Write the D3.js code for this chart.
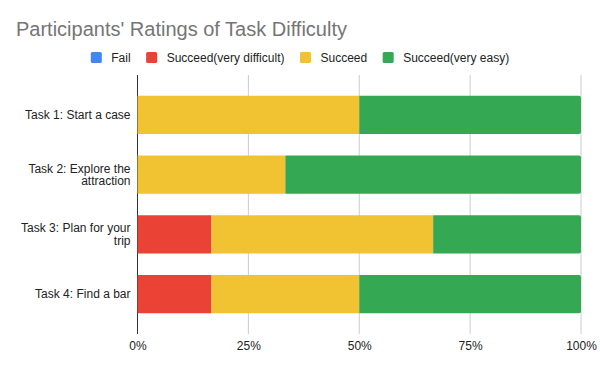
<!DOCTYPE html>
<html>
<head>
<meta charset="utf-8">
<script src="https://cdn.jsdelivr.net/npm/d3@7"></script>
<style>
  body { margin: 0; background: #fff; }
  text { font-family: Arial, "Liberation Sans", sans-serif; }
</style>
</head>
<body>
<script>
// responses per task (6 participants)
var categories = ["Task 1: Start a case", "Task 2: Explore the attraction", "Task 3: Plan for your trip", "Task 4: Find a bar"];
var seriesNames = ["Fail", "Succeed(very difficult)", "Succeed", "Succeed(very easy)"];
var fail = [0, 0, 0, 0];
var veryDifficult = [0, 0, 1, 1];
var succeed = [3, 2, 3, 2];
var veryEasy = [3, 4, 2, 3];
var colors = ["#4285F4", "#EA4335", "#F1C232", "#34A853"];
var ticks = [0, 0.25, 0.5, 0.75, 1];

var w = 600, h = 371;
var svg = d3.select("body").append("svg")
    .attr("width", w)
    .attr("height", h);

var rows = categories.map(function(c, i) {
    var r = {task: c};
    r[seriesNames[0]] = fail[i];
    r[seriesNames[1]] = veryDifficult[i];
    r[seriesNames[2]] = succeed[i];
    r[seriesNames[3]] = veryEasy[i];
    return r;
});
var stacked = d3.stack().keys(seriesNames).offset(d3.stackOffsetExpand)(rows);

var x = d3.scaleLinear().domain([0, 1]).range([137.5, 581]);
var y = d3.scaleBand().domain(categories).range([85, 324])
    .paddingInner(0.36).paddingOuter(0.18);
var color = d3.scaleOrdinal().domain(seriesNames).range(colors);

// title
svg.append("text")
    .attr("x", 16).attr("y", 35.5)
    .attr("font-size", 20)
    .attr("fill", "#757575")
    .text("Participants' Ratings of Task Difficulty");

// legend
var legend = svg.append("g");
var lx = 0;
seriesNames.forEach(function(s) {
    var g = legend.append("g").attr("transform", "translate(" + lx + ",0)");
    g.append("rect").attr("x", 0).attr("y", -5.5).attr("width", 11).attr("height", 11)
        .attr("rx", 1.5).attr("fill", color(s));
    var t = g.append("text").attr("x", 20.5).attr("y", 4.3)
        .attr("font-size", 12).attr("fill", "#222").text(s);
    lx += 20.5 + t.node().getComputedTextLength() + 15.5;
});
lx -= 15.5;
legend.attr("transform", "translate(" + (w / 2 - lx / 2) + ",57.5)");

// gridlines
svg.append("g").selectAll("line")
    .data(ticks)
    .enter().append("line")
    .attr("x1", function(d) { return x(d); })
    .attr("x2", function(d) { return x(d); })
    .attr("y1", 75).attr("y2", 334)
    .attr("stroke", function(d) { return d === 0 ? "#333" : "#ccc"; })
    .attr("stroke-width", 1);

// bars
var layers = svg.append("g").selectAll("g")
    .data(stacked)
    .enter().append("g")
    .attr("fill", function(d) { return color(d.key); });

function isLast(layerIdx, rowIdx) {
    for (var k = layerIdx + 1; k < stacked.length; k++) {
        var s = stacked[k][rowIdx];
        if (s[1] - s[0] > 0) return false;
    }
    return true;
}

layers.each(function(layer, li) {
    d3.select(this).selectAll("path")
        .data(layer.filter(function(d) { return d[1] - d[0] > 0; }))
        .enter().append("path")
        .attr("d", function(d) {
            var ri = categories.indexOf(d.data.task);
            var x0 = x(d[0]), x1 = x(d[1]), y0 = y(d.data.task), bh = y.bandwidth();
            var r = isLast(li, ri) ? 2 : 0;
            return "M" + x0 + "," + y0 + "H" + (x1 - r) +
                "Q" + x1 + "," + y0 + " " + x1 + "," + (y0 + r) +
                "V" + (y0 + bh - r) +
                "Q" + x1 + "," + (y0 + bh) + " " + (x1 - r) + "," + (y0 + bh) +
                "H" + x0 + "Z";
        });
});

// x axis labels
var xAxis = svg.append("g")
    .attr("transform", "translate(0,337)")
    .call(d3.axisBottom(x).tickValues(ticks).tickFormat(d3.format(".0%")).tickSize(0));
xAxis.select(".domain").remove();
xAxis.selectAll("text").attr("font-size", 12).attr("fill", "#222")
    .attr("font-family", "Arial, 'Liberation Sans', sans-serif").attr("dy", "0.71em").attr("y", 4);

// y labels with wrapping
var yLab = svg.append("g");
categories.forEach(function(c) {
    var t = yLab.append("text")
        .attr("text-anchor", "end")
        .attr("font-size", 12)
        .attr("fill", "#222");
    var words = c.split(" "), lines = [], line = [];
    var probe = t.append("tspan");
    words.forEach(function(wd) {
        line.push(wd);
        probe.text(line.join(" "));
        if (probe.node().getComputedTextLength() > 115 && line.length > 1) {
            line.pop();
            lines.push(line.join(" "));
            line = [wd];
        }
    });
    lines.push(line.join(" "));
    probe.remove();
    var cy = y(c) + y.bandwidth() / 2;
    var lh = 12.5;
    lines.forEach(function(l, i) {
        t.append("tspan")
            .attr("x", 130.5)
            .attr("y", cy + (i - (lines.length - 1) / 2) * lh + 4.3)
            .text(l);
    });
});
</script>
</body>
</html>
